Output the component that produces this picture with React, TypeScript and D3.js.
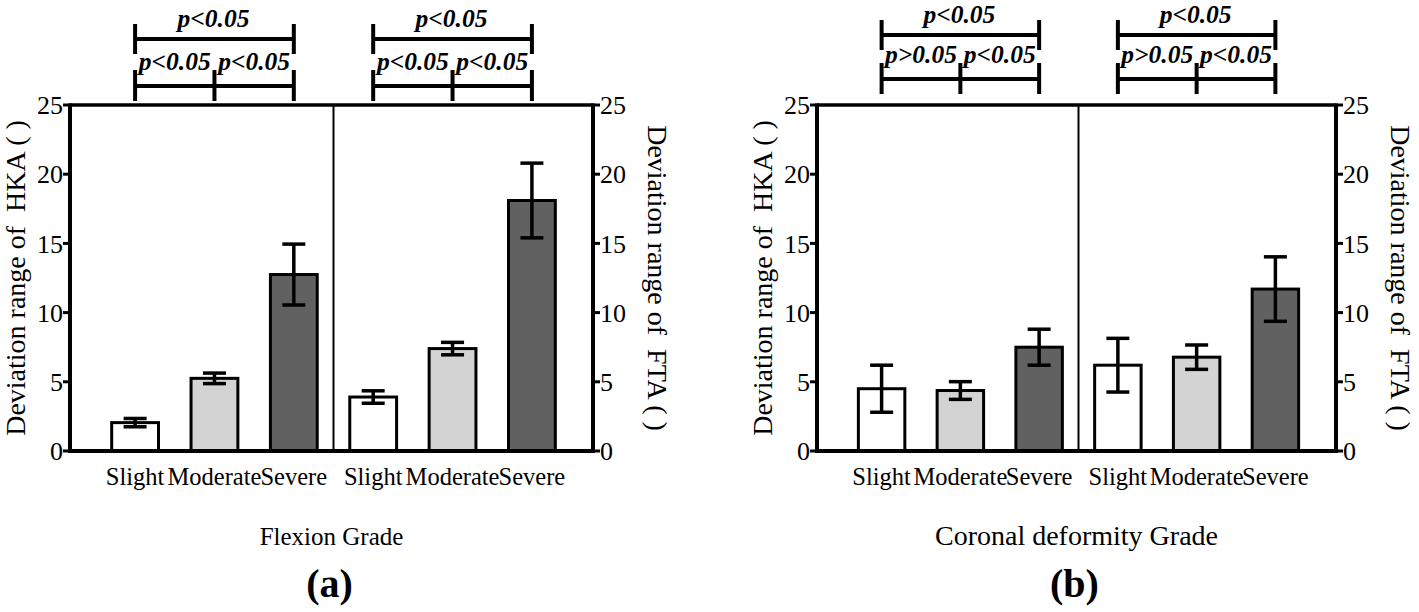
import React from "react";
import * as d3 from "d3";

const categories = ["Slight", "Moderate", "Severe"];
const fills = ["#ffffff", "#d3d3d3", "#616161"];
const yTicks = [0, 5, 10, 15, 20, 25];

// Panel (a) Flexion grade
const hkaA = [2.05, 5.25, 12.75];
const hkaAErr = [0.3, 0.38, 2.2];
const ftaA = [3.9, 7.4, 18.1];
const ftaAErr = [0.45, 0.45, 2.7];
const pA = { top: "p<0.05", low: ["p<0.05", "p<0.05"] };

// Panel (b) Coronal deformity grade
const hkaB = [4.5, 4.37, 7.5];
const hkaBErr = [1.7, 0.64, 1.3];
const ftaB = [6.2, 6.78, 11.7];
const ftaBErr = [1.94, 0.88, 2.33];
const pB = { top: "p<0.05", low: ["p>0.05", "p<0.05"] };

const FONT = "'Liberation Serif', 'Times New Roman', serif";

type PanelProps = {
  left: number;
  right: number;
  hka: number[];
  hkaErr: number[];
  fta: number[];
  ftaErr: number[];
  p: { top: string; low: string[] };
  xTitle: string;
  xTitleSize: number;
  tag: string;
  bTop: number;
  bLow: number;
};

function Panel({ left, right, hka, hkaErr, fta, ftaErr, p, xTitle, xTitleSize, tag, bTop, bLow }: PanelProps) {
  const top = 105;
  const bottom = 451;
  const y = d3.scaleLinear().domain([0, 25]).range([bottom, top]);
  const keys = [0, 1, 2, 3, 4, 5].map(String);
  const x = d3.scaleBand().domain(keys).range([left + 2, right + 2]).paddingInner(0.41).paddingOuter(0.5);
  const bw = x.bandwidth();
  const cx = (i: number) => (x(String(i)) as number) + bw / 2;
  const values = [...hka, ...fta];
  const errs = [...hkaErr, ...ftaErr];
  const divider = (cx(2) + cx(3)) / 2;
  const capW = 23;
  const midX = (left + right) / 2;

  const bracket = (g: number) => {
    const a = cx(g * 3), b = cx(g * 3 + 1), c = cx(g * 3 + 2);
    return (
      <g key={"br" + g} stroke="#000" strokeWidth={4}>
        <line x1={a} x2={c} y1={bTop} y2={bTop} />
        <line x1={a} x2={a} y1={bTop - 15} y2={bTop + 15} />
        <line x1={c} x2={c} y1={bTop - 15} y2={bTop + 15} />
        <line x1={a} x2={c} y1={bLow} y2={bLow} />
        <line x1={a} x2={a} y1={bLow - 16} y2={bLow + 15} />
        <line x1={b} x2={b} y1={bLow - 16} y2={bLow + 15} />
        <line x1={c} x2={c} y1={bLow - 16} y2={bLow + 15} />
        <g stroke="none" fill="#000" fontFamily={FONT} fontWeight="bold" fontStyle="italic" fontSize={25.5} textAnchor="middle">
          <text x={(a + c) / 2 - 1} y={bTop - 12}>{p.top}</text>
          <text x={(a + b) / 2} y={bLow - 16}>{p.low[0]}</text>
          <text x={(b + c) / 2} y={bLow - 16}>{p.low[1]}</text>
        </g>
      </g>
    );
  };

  return (
    <g>
      {/* bars */}
      {values.map((v, i) => (
        <rect key={"bar" + i} x={x(String(i))} y={y(v)} width={bw} height={y(0) - y(v)}
          fill={fills[i % 3]} stroke="#000" strokeWidth={3} />
      ))}
      {/* error bars */}
      {values.map((v, i) => (
        <g key={"err" + i} stroke="#000" strokeWidth={3.5}>
          <line x1={cx(i)} x2={cx(i)} y1={y(v + errs[i])} y2={y(v - errs[i])} />
          <line x1={cx(i) - capW / 2} x2={cx(i) + capW / 2} y1={y(v + errs[i])} y2={y(v + errs[i])} />
          <line x1={cx(i) - capW / 2} x2={cx(i) + capW / 2} y1={y(v - errs[i])} y2={y(v - errs[i])} />
        </g>
      ))}
      {/* frame */}
      <line x1={divider} x2={divider} y1={top} y2={bottom} stroke="#000" strokeWidth={2} />
      <line x1={left} x2={right} y1={top} y2={top} stroke="#000" strokeWidth={3.5} />
      <line x1={left} x2={right} y1={bottom} y2={bottom} stroke="#000" strokeWidth={4} />
      <line x1={left} x2={left} y1={top - 1.5} y2={bottom + 2} stroke="#000" strokeWidth={4} />
      <line x1={right} x2={right} y1={top - 1.5} y2={bottom + 2} stroke="#000" strokeWidth={4} />
      {/* ticks */}
      {yTicks.map((t) => (
        <g key={"t" + t} fontFamily={FONT} fontSize={26} fill="#000">
          <line x1={left - 7} x2={left} y1={y(t)} y2={y(t)} stroke="#000" strokeWidth={3} />
          <line x1={right} x2={right + 7} y1={y(t)} y2={y(t)} stroke="#000" strokeWidth={3} />
          <text x={left - 7} y={y(t)} dy="0.35em" textAnchor="end">{t}</text>
          <text x={right + 7} y={y(t)} dy="0.35em" textAnchor="start">{t}</text>
        </g>
      ))}
      {/* axis titles */}
      <text transform={`translate(${left - 55},${(top + bottom) / 2}) rotate(-90)`} textAnchor="middle"
        fontFamily={FONT} fontSize={28} dy="0.35em" style={{ whiteSpace: "pre" }}>Deviation range of  HKA ( )</text>
      <text transform={`translate(${right + 65},${(top + bottom) / 2}) rotate(90)`} textAnchor="middle"
        fontFamily={FONT} fontSize={28} dy="0.35em" style={{ whiteSpace: "pre" }}>Deviation range of  FTA ( )</text>
      {/* category labels */}
      {values.map((_, i) => (
        <text key={"c" + i} x={cx(i)} y={485} textAnchor="middle" fontFamily={FONT} fontSize={24.5}>
          {categories[i % 3]}
        </text>
      ))}
      <text x={midX} y={545} textAnchor="middle" fontFamily={FONT} fontSize={xTitleSize}>{xTitle}</text>
      <text x={midX - 2} y={597} textAnchor="middle" fontFamily={FONT} fontSize={40} fontWeight="bold">{tag}</text>
      {bracket(0)}
      {bracket(1)}
    </g>
  );
}

export default function App() {
  return (
    <svg width={1419} height={612} style={{ position: "absolute", left: 0, top: 0, background: "#fff" }}>
      <rect width={1419} height={612} fill="#fff" />
      <Panel left={70} right={593} hka={hkaA} hkaErr={hkaAErr} fta={ftaA} ftaErr={ftaAErr} p={pA}
        xTitle="Flexion Grade" xTitleSize={25} tag="(a)" bTop={39} bLow={86} />
      <Panel left={817} right={1336} hka={hkaB} hkaErr={hkaBErr} fta={ftaB} ftaErr={ftaBErr} p={pB}
        xTitle="Coronal deformity Grade" xTitleSize={28} tag="(b)" bTop={35} bLow={79} />
    </svg>
  );
}
